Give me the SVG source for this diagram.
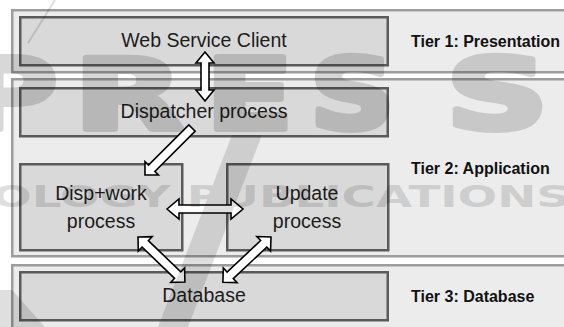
<svg xmlns="http://www.w3.org/2000/svg" width="564" height="327" viewBox="0 0 564 327">
  <defs>
    <style>
      .panel { fill: #ececec; stroke: #9c9c9c; stroke-width: 2.5; }
      .box { fill: #d9d9d9; stroke: #5a5a5a; stroke-width: 2.5; }
      .lbl { font-family: "Liberation Sans", Arial, sans-serif; font-size: 19.5px; fill: #1c1c1c; text-anchor: middle; }
      .tier { font-family: "Liberation Sans", Arial, sans-serif; font-size: 16px; font-weight: bold; fill: #111111; }
      .arrow { fill: #ffffff; stroke: #000000; stroke-width: 1.6; stroke-linejoin: miter; }
      .wm { font-family: "DejaVu Sans", sans-serif; font-weight: bold; fill: #000000; stroke: #000000; stroke-width: 6; stroke-linejoin: round; font-size: 98px; }
    </style>
  </defs>

  <rect width="564" height="327" fill="#ffffff"/>

  <!-- tier bands -->
  <g id="tier1">
    <rect class="panel" x="12.25" y="10.25" width="570" height="62"/>
    <text class="tier" x="411" y="47">Tier 1: Presentation</text>
  </g>
  <g id="tier2">
    <rect class="panel" x="12.25" y="79.25" width="570" height="177"/>
    <text class="tier" x="411" y="174">Tier 2: Application</text>
  </g>
  <g id="tier3">
    <rect class="panel" x="12.25" y="265.25" width="570" height="80"/>
    <text class="tier" x="411" y="302">Tier 3: Database</text>
  </g>

  <!-- components -->
  <g id="web-service-client">
    <rect class="box" x="20.25" y="17.25" width="367.5" height="48"/>
    <text class="lbl" x="204" y="47">Web Service Client</text>
  </g>
  <g id="dispatcher">
    <rect class="box" x="20.25" y="88.25" width="367.5" height="48"/>
    <text class="lbl" x="204" y="118">Dispatcher process</text>
  </g>
  <g id="disp-work">
    <rect class="box" x="20.25" y="164.25" width="162" height="86"/>
    <text class="lbl" x="101" y="200">Disp+work</text>
    <text class="lbl" x="101" y="228">process</text>
  </g>
  <g id="update">
    <rect class="box" x="227.25" y="164.25" width="161" height="86"/>
    <text class="lbl" x="307" y="200">Update</text>
    <text class="lbl" x="307" y="228">process</text>
  </g>
  <g id="database">
    <rect class="box" x="20.25" y="272.25" width="367.5" height="48"/>
    <text class="lbl" x="204" y="302">Database</text>
  </g>

  <!-- block arrows, drawn along +x and placed by transform -->
  <g id="connectors">
    <polygon class="arrow" transform="translate(205,52) rotate(90)"
      points="0,0 11,-9 11,-4 38,-4 38,-9 49,0 38,9 38,4 11,4 11,9"/>
    <polygon class="arrow" transform="translate(192,128) rotate(135)"
      points="0,-4.5 57,-4.5 57,-9.5 66.5,0 57,9.5 57,4.5 0,4.5"/>
    <polygon class="arrow" transform="translate(167,209)"
      points="0,0 12,-10 12,-4 64,-4 64,-10 76,0 64,10 64,4 12,4 12,10"/>
    <polygon class="arrow" transform="translate(138,237) rotate(43.8)"
      points="0,0 10,-10 10,-4.5 55,-4.5 55,-10 65,0 55,10 55,4.5 10,4.5 10,10"/>
    <polygon class="arrow" transform="translate(271,237) rotate(136.8)"
      points="0,0 10,-10 10,-4.5 56,-4.5 56,-10 66,0 56,10 56,4.5 10,4.5 10,10"/>
  </g>

  <!-- faint publisher mark laid over the figure; letters widened by scaling -->
  <g id="mark" opacity="0.15">
    <text class="wm" transform="translate(-36,129) scale(1.3,1)">P</text>
    <text class="wm" transform="translate(74,129) scale(1.45,1)">R</text>
    <text class="wm" transform="translate(206,129) scale(1.3,1)">E</text>
    <text class="wm" transform="translate(310,129) scale(1.2,1)">S</text>
    <text class="wm" transform="translate(446,129) scale(1.45,1)">S</text>
  </g>
  <g opacity="0.12">
    <text x="-8" y="207" font-family="DejaVu Sans, sans-serif" font-weight="bold" font-size="30" textLength="578" lengthAdjust="spacingAndGlyphs">OLOGY PUBLICATIONS</text>
    <polygon points="232,135 262,135 188,327 158,327" fill="#000000"/>
    <polygon points="0,290 12,290 45,327 0,327" fill="#000000"/>
    <line x1="28" y1="43" x2="55" y2="0" stroke="#000000" stroke-width="2"/>
  </g>
</svg>
